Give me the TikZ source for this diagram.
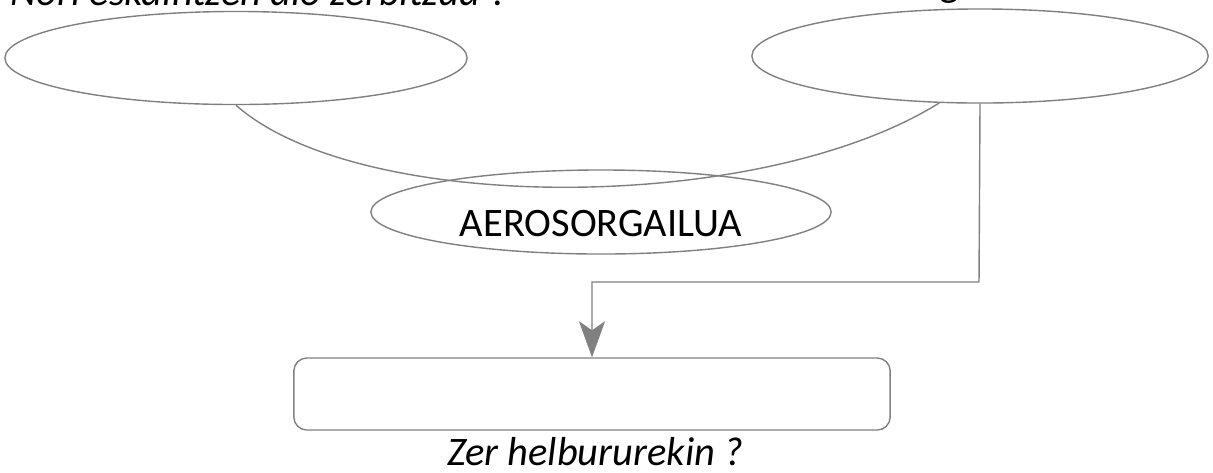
\documentclass[tikz,border=0pt]{standalone}
\usepackage{fontspec}
\setmainfont{Carlito}
\usepackage{tikz}
\usetikzlibrary{shapes, arrows.meta, positioning}
\definecolor{linegray}{RGB}{128,128,128}
\tikzstyle{bubble} = [ellipse, draw=linegray, line width=0.4pt, inner sep=0pt, text centered]
\tikzstyle{result} = [rectangle, rounded corners=0.13cm, draw=linegray, line width=0.4pt, minimum width=5.96cm, minimum height=0.72cm]
\tikzstyle{question} = [inner sep=0pt, font=\fontsize{11.5}{14}\selectfont\itshape]
\tikzstyle{link} = [draw=linegray, line width=0.4pt]
\tikzstyle{arrow} = [link, -{Stealth[length=3.6mm, width=2.6mm, inset=0.9mm]}, >=stealth]

\begin{document}
\begin{tikzpicture}[x=0.01cm, y=-0.01cm, font=\fontsize{11.5}{14}\selectfont]
        \useasboundingbox (0,0) rectangle (1213,472);
        % Questions (cut at the top edge)
        \node (qwho) [question, anchor=base west] at (10,5) {Nori eskaintzen dio zerbitzua ?};
        \node (qwhat) [question, anchor=base west] at (861,-4) {Zer egiten du ?};
        % Ellipses
        \node (who) [bubble, minimum width=4.62cm, minimum height=0.93cm] at (236,58) {};
        \node (what) [bubble, minimum width=4.56cm, minimum height=0.94cm] at (980,56) {};
        \node (core) [bubble, minimum width=4.60cm, minimum height=0.84cm, text height=14pt, text depth=0pt] at (601,212) {AEROSORGAILUA};
        % Result box and its question
        \node (goal) [result] at (592,394) {};
        \node (qgoal) [question, anchor=base] at (595,465) {Zer helbururekin ?};
        % Connectors
        \draw [link] (who.south) .. controls (360,215) and (760,215) .. (what.-131);
        \coordinate (bend) at (979,282);
        \draw [arrow] (what.south) -- (bend) -| (goal.north);
    \end{tikzpicture}
\end{document}
